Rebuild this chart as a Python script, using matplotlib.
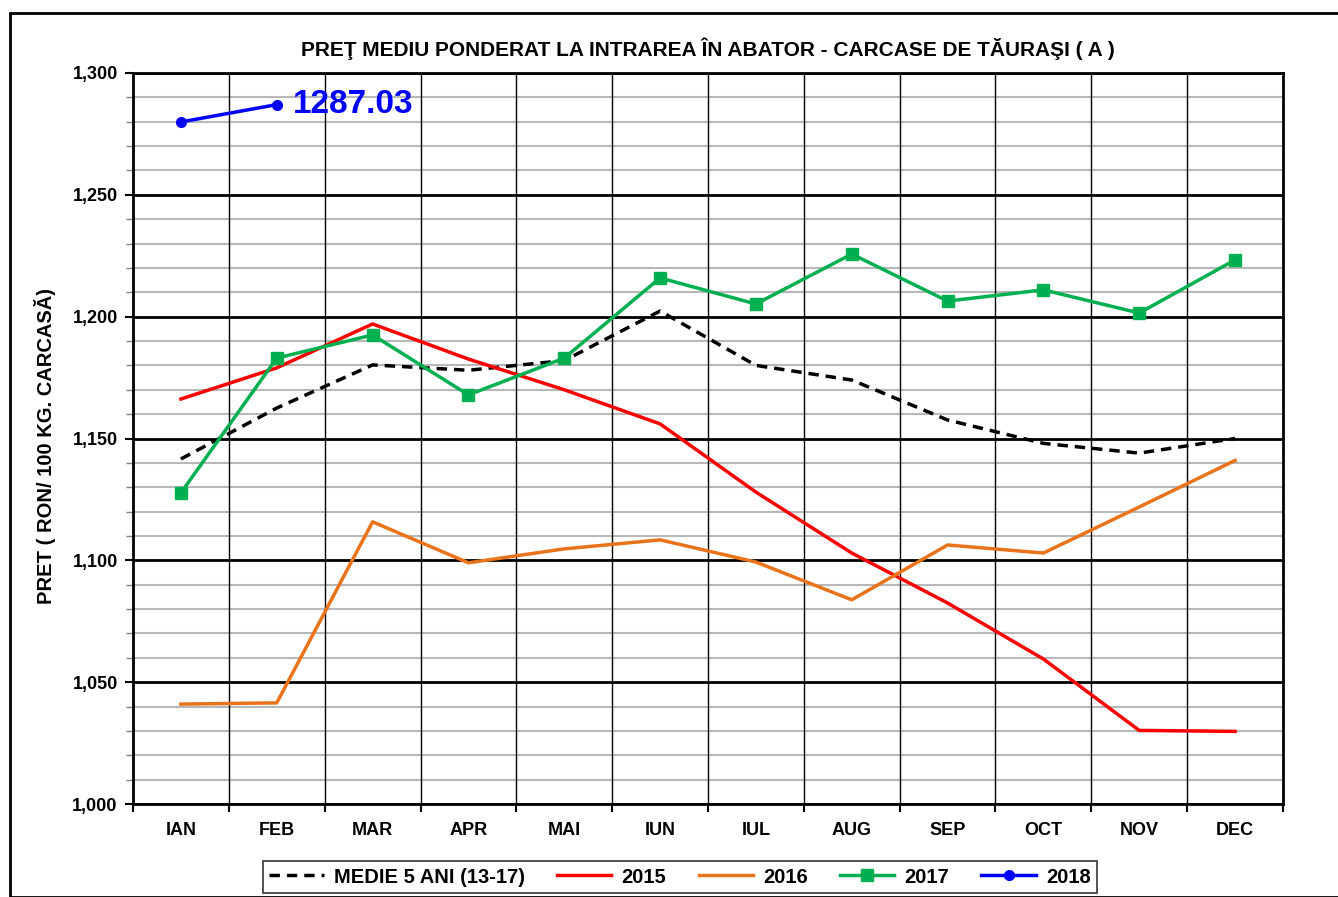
import numpy as np
import matplotlib.pyplot as plt
from matplotlib.patches import Rectangle
from matplotlib.ticker import MultipleLocator, FuncFormatter

plt.rcParams['font.family'] = ['Liberation Sans', 'DejaVu Sans']
plt.rcParams['font.weight'] = 'bold'

months = ['IAN', 'FEB', 'MAR', 'APR', 'MAI', 'IUN', 'IUL', 'AUG', 'SEP', 'OCT', 'NOV', 'DEC']
medie = [1141.6, 1162.5, 1180.2, 1178.0, 1182.0, 1202.3, 1180.0, 1174.0, 1157.6, 1148.0, 1144.0, 1150.0]
y2015 = [1166.2, 1179.0, 1197.0, 1182.6, 1170.0, 1156.0, 1128.0, 1103.0, 1082.5, 1059.5, 1030.2, 1029.8]
y2016 = [1041.0, 1041.5, 1115.8, 1099.0, 1104.7, 1108.4, 1099.3, 1083.8, 1106.3, 1103.0, 1121.9, 1141.0]
y2017 = [1127.7, 1183.0, 1192.5, 1167.9, 1183.0, 1215.9, 1205.2, 1225.7, 1206.4, 1211.0, 1201.5, 1223.3]
y2018 = [1279.9, 1287.03]

fig = plt.figure(figsize=(13.38, 8.97), dpi=100)
W, H = 1338, 897
ax = fig.add_axes([133 / W, 1 - 804 / H, (1283 - 133) / W, (804 - 73) / H])

# outer chart frame
fig.patches.append(Rectangle((10 / W, 0), 1.0, 1 - 13 / H, transform=fig.transFigure,
                             fill=False, edgecolor='black', linewidth=2))

x = np.arange(len(months))
ax.set_xlim(-0.5, 11.5)
ax.set_ylim(1000, 1300)

# grid
for v in np.arange(1000, 1301, 10):
    if v % 50 == 0:
        ax.axhline(v, color='black', lw=2, zorder=1)
    else:
        ax.axhline(v, color='#b8b8b8', lw=1.5, zorder=1)
for b in np.arange(0.5, 11.5, 1):
    ax.axvline(b, color='black', lw=1, zorder=1)

ax.plot(x, medie, color='black', ls=(0, (3, 2)), lw=2.5, label='MEDIE 5 ANI (13-17)', zorder=3)
ax.plot(x, y2015, color='#ff0000', lw=2.5, label='2015', zorder=3)
ax.plot(x, y2016, color='#e8731a', lw=2.5, label='2016', zorder=3)
ax.plot(x, y2017, color='#00b050', lw=2.5, marker='s', ms=8, label='2017', zorder=4)
ax.plot(x[:2], y2018, color='#0000ff', lw=2.5, marker='o', ms=7, label='2018', zorder=4)

ax.text(x[1] + 0.17, y2018[1], f'{y2018[1]:.2f}', color='#0000ff', fontsize=24,
        fontweight='bold', va='center', ha='left')

# ticks
ax.yaxis.set_major_locator(MultipleLocator(50))
ax.yaxis.set_minor_locator(MultipleLocator(10))
ax.yaxis.set_major_formatter(FuncFormatter(lambda v, p: f'{int(v):,}'))
ax.tick_params(axis='y', which='major', length=6, width=1.5, labelsize=13, pad=5)
ax.tick_params(axis='y', which='minor', length=5, width=1, color='#808080')
ax.set_xticks(x)
ax.set_xticklabels(months)
ax.set_xticks(np.arange(-0.5, 12, 1), minor=True)
ax.tick_params(axis='x', which='major', length=0, labelsize=13, pad=13)
ax.tick_params(axis='x', which='minor', length=6, width=1.5)
for s in ax.spines.values():
    s.set_linewidth(2)

ax.set_title('PREŢ MEDIU PONDERAT LA INTRAREA ÎN ABATOR - CARCASE DE TĂURAŞI ( A )',
             fontsize=15, fontweight='bold', pad=12)
ax.set_ylabel('PRET ( RON/ 100 KG. CARCASĂ)', fontsize=14.5, fontweight='bold')
ax.yaxis.set_label_coords((56 - 133) / 1150, 0.49)

leg = ax.legend(loc='center', bbox_to_anchor=(680 / W, 1 - 877 / H), bbox_transform=fig.transFigure,
                ncol=5, frameon=True, fancybox=False, edgecolor='black', fontsize=14.5,
                handlelength=2.7, handletextpad=0.5, columnspacing=1.6, borderpad=0.3)
leg.get_frame().set_linewidth(1.2)

fig.savefig('out.png', dpi=100)
